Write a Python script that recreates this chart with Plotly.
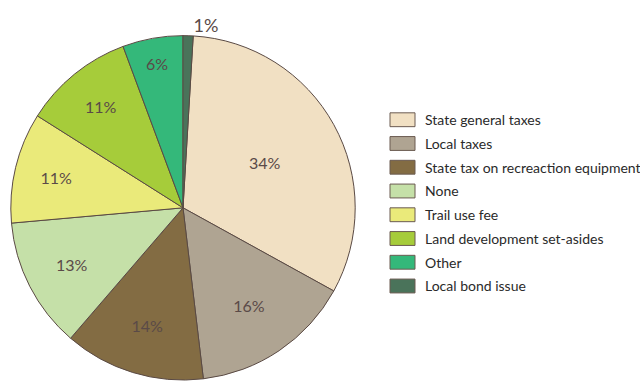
import plotly.graph_objects as go

labels = ["State general taxes", "Local taxes", "State tax on recreaction equipment", "None",
          "Trail use fee", "Land development set-asides", "Other", "Local bond issue"]
values = [34, 16, 14, 13, 11, 11, 6, 1]
colors = ["#F1E0C3", "#AFA492", "#836C43", "#C5E0A8", "#EAEA7A", "#A6CC3A", "#34B87A", "#4A735A"]
text_labels = [f"{v}%" for v in values]
positions = ["inside"] * 7 + ["outside"]
sizes = [16] * 7 + [18]

fig = go.Figure(go.Pie(
    labels=labels, values=values, sort=False, direction="clockwise", rotation=3.4,
    marker=dict(colors=colors, line=dict(color="#5A4A44", width=1)),
    text=text_labels, textinfo="text", textposition=positions,
    insidetextorientation="horizontal",
    textfont=dict(family="Lato", size=sizes, color="#5A4A48"),
    domain=dict(x=[8/640, 358/640], y=[1/385, 349/385]),
    showlegend=False, hoverinfo="label+percent",
))

shapes = []
annotations = []
for i, (lab, col) in enumerate(zip(labels, colors)):
    yc = 121 + 24 * i
    shapes.append(dict(type="rect", xref="paper", yref="paper",
                       x0=390/640, x1=415/640, y0=1-(yc+7)/385, y1=1-(yc-7)/385,
                       fillcolor=col, line=dict(color="#6A5A50", width=1)))
    annotations.append(dict(text=lab, xref="paper", yref="paper", x=423/640, y=1-yc/385,
                            xanchor="left", yanchor="middle", showarrow=False,
                            font=dict(family="Lato", size=14, color="#2A2A2A")))

fig.update_layout(width=640, height=385, margin=dict(l=0, r=0, t=0, b=0),
                  paper_bgcolor="white", plot_bgcolor="white",
                  shapes=shapes, annotations=annotations)
fig.write_html("out.html")
